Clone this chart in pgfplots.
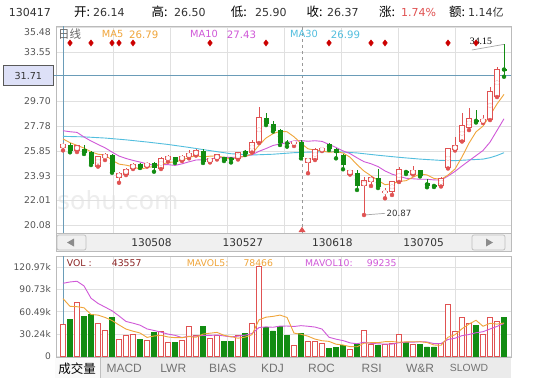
\documentclass[border=0pt]{standalone}
\usepackage{pgfplots}
\pgfplotsset{compat=1.18}
\usepackage{pgfplotstable}
\usepackage{fontspec}
\setmainfont{DejaVu Sans}
\newfontfamily\cjk{Noto Sans CJK SC}
\newfontfamily\serifnum{Liberation Serif}
\newfontfamily\tabfont{Liberation Sans}
\definecolor{upred}{HTML}{E05252}
\definecolor{dngreen}{HTML}{128C12}
\definecolor{ma5c}{HTML}{F0A53A}
\definecolor{ma10c}{HTML}{D058D8}
\definecolor{ma30c}{HTML}{52BEDE}
\definecolor{gridc}{HTML}{E0E0E0}
\definecolor{borderc}{HTML}{BBBBBB}
\definecolor{labc}{HTML}{555555}
\definecolor{crossc}{HTML}{6A9CB8}
\definecolor{volc}{HTML}{8B2323}
\definecolor{diamc}{HTML}{CC0000}
\definecolor{barbg}{HTML}{F0F0F0}
\definecolor{tabbg}{HTML}{EBEBEB}
\definecolor{boxfill}{HTML}{DDE0F7}
\definecolor{hdr}{HTML}{333333}
\newcommand{\fs}[1]{\fontsize{#1bp}{#1bp}\selectfont}

% up (red) candles: index open high low close
\pgfplotstableread{
i o h l c
0 26.14 26.50 25.90 26.37
2 25.93 26.34 25.77 26.24
5 24.68 25.46 24.64 25.41
6 25.36 25.67 25.15 25.54
8 23.80 24.24 23.38 24.12
9 24.06 24.53 23.98 24.43
10 24.50 24.92 24.45 24.82
12 24.68 24.96 24.64 24.89
14 24.50 25.38 24.45 25.28
15 25.20 25.54 25.02 25.41
17 25.15 25.54 25.07 25.46
18 25.41 25.93 25.28 25.67
19 25.54 25.97 25.50 25.87
21 25.02 25.34 24.96 25.28
22 25.23 25.58 25.19 25.54
25 25.23 25.77 25.19 25.73
27 25.77 26.67 25.73 26.55
28 26.53 29.25 26.47 28.47
33 26.47 26.57 26.24 26.51
35 24.97 25.31 24.12 25.28
36 25.20 26.08 25.15 25.98
37 25.93 26.20 25.85 26.06
41 24.06 24.41 24.02 24.37
43 23.13 23.85 20.87 23.52
44 23.46 23.87 23.13 23.80
46 22.61 22.95 22.17 22.68
47 22.68 23.52 22.43 23.46
48 23.46 24.58 23.44 24.43
50 24.06 24.68 24.02 24.37
54 23.13 23.79 23.09 23.73
55 24.53 26.08 24.49 26.05
56 25.93 26.92 25.89 26.29
57 26.63 28.78 26.59 27.82
58 27.66 29.17 27.48 28.40
60 28.11 28.65 28.03 28.32
61 28.32 30.81 28.26 30.47
62 30.13 32.36 30.05 32.21
}\upc
% down (green) candles
\pgfplotstableread{
i o h l c
1 26.32 26.45 25.75 25.87
3 26.01 26.32 25.62 25.67
4 25.77 25.85 24.76 24.82
7 25.54 25.62 24.16 24.24
11 24.84 24.92 24.53 24.55
13 24.94 25.02 24.24 24.55
16 25.36 25.42 24.92 24.97
20 25.87 25.97 24.92 24.97
23 25.36 25.38 25.07 25.11
24 25.28 25.31 24.96 25.15
26 25.85 25.89 25.54 25.59
29 28.40 28.78 27.87 27.95
30 27.95 28.21 27.37 27.43
31 27.48 27.56 26.32 26.50
32 26.50 26.71 26.19 26.40
34 26.53 26.71 25.28 25.41
38 26.40 26.47 25.93 26.01
39 26.01 26.05 25.28 25.67
40 25.54 25.62 24.43 24.76
42 24.12 24.37 22.82 23.13
45 23.77 24.43 22.97 23.03
49 24.32 24.37 24.06 24.12
51 24.37 24.41 23.87 23.91
52 23.38 23.65 23.03 23.13
53 23.20 23.24 23.05 23.07
59 28.26 29.04 28.07 28.13
63 32.23 34.15 31.63 32.15
}\dnc
% moving averages MA5 / MA10
\pgfplotstableread{
i ma5 ma10
0 26.79 27.43
1 26.50 27.35
2 26.29 27.30
3 26.08 26.94
4 25.79 26.63
5 25.60 26.36
6 25.54 26.10
7 25.14 25.77
8 24.83 25.46
9 24.75 25.27
10 24.63 25.12
11 24.43 24.99
12 24.56 24.85
13 24.65 24.74
14 24.82 24.79
15 24.94 24.79
16 25.02 24.73
17 25.13 24.85
18 25.36 25.01
19 25.48 25.15
20 25.39 25.17
21 25.45 25.24
22 25.47 25.30
23 25.35 25.36
24 25.21 25.35
25 25.36 25.38
26 25.42 25.44
27 25.63 25.55
28 26.30 25.83
29 26.86 26.04
30 27.20 26.28
31 27.38 26.40
32 27.35 26.49
33 26.96 26.63
34 26.45 26.66
35 26.02 26.61
36 25.92 26.65
37 25.85 26.60
38 25.75 26.36
39 25.80 26.13
40 25.70 25.86
41 25.37 25.65
42 24.79 25.32
43 24.29 25.02
44 23.92 24.86
45 23.57 24.64
46 23.23 24.30
47 23.30 24.05
48 23.48 23.89
49 23.54 23.73
50 23.81 23.69
51 24.06 23.65
52 23.99 23.65
53 23.72 23.60
54 23.64 23.59
55 23.98 23.90
56 24.45 24.26
57 25.39 24.69
58 26.46 25.09
59 27.34 25.49
60 27.79 25.89
61 28.63 26.54
62 29.51 27.45
63 30.26 28.36
}\matab
\pgfplotstableread{
i ma30
0 26.99
3 26.95
6 26.86
9 26.72
12 26.55
15 26.36
18 26.13
21 25.88
24 25.64
27 25.54
30 25.60
33 25.72
36 25.78
39 25.80
42 25.70
45 25.52
48 25.36
51 25.22
54 25.12
56 25.10
58 25.16
60 25.22
61 25.33
62 25.50
63 25.72
}\mathirty
% volumes (thousands)
\pgfplotstableread{
i v
0 43.56
2 73.4
5 45.0
6 35.5
8 23.7
9 29.1
10 30.5
12 22.4
14 34.1
15 19.2
17 22.4
18 41.3
19 29.1
21 24.6
22 28.2
25 29.1
27 45.0
28 121.7
33 15.6
35 21.0
36 21.0
37 17.9
41 9.8
43 35.0
44 16.5
46 16.5
47 17.9
48 30.1
50 16.5
54 17.4
55 70.7
56 33.6
57 53.5
58 45.0
60 30.1
61 53.5
62 48.1
}\upv
\pgfplotstableread{
i v
1 50.8
3 53.9
4 57.2
7 52.6
11 23.7
13 33.2
16 18.7
20 40.4
23 21.0
24 21.0
26 31.8
29 39.0
30 34.6
31 40.4
32 29.1
34 31.4
38 11.1
39 12.5
40 15.6
42 16.9
45 15.6
49 19.2
51 16.5
52 12.9
53 12.9
59 42.7
63 52.6
}\dnv
\pgfplotstableread{
i m5 m10
0 78.47 99.24
1 68.0 101.0
2 67.5 102.0
3 66.0 95.6
4 57.0 79.0
5 56.1 72.0
6 53.0 67.0
7 48.8 62.0
8 42.8 55.0
9 37.2 47.5
10 34.3 45.2
11 31.9 42.5
12 25.9 37.4
13 27.8 35.3
14 28.8 33.0
15 26.5 30.4
16 25.5 28.7
17 25.5 25.7
18 27.1 27.5
19 26.1 27.5
20 30.4 28.5
21 31.6 28.6
22 32.7 29.1
23 28.7 27.9
24 27.0 26.6
25 24.8 27.6
26 26.2 28.9
27 29.6 31.2
28 49.7 39.2
29 53.3 40.2
30 54.4 39.6
31 56.1 41.2
32 53.0 41.3
33 31.7 40.7
34 30.2 41.8
35 27.5 41.0
36 23.6 39.9
37 21.4 37.2
38 20.5 26.1
39 16.7 23.5
40 15.6 21.6
41 13.4 18.5
42 13.2 17.3
43 18.0 19.3
44 18.8 17.8
45 18.8 17.2
46 20.1 16.8
47 20.3 16.8
48 19.3 18.7
49 19.9 19.4
50 20.0 19.4
51 20.0 20.1
52 19.0 19.7
53 15.6 17.5
54 15.2 17.6
55 26.1 23.1
56 29.5 24.8
57 37.6 28.3
58 44.0 29.8
59 49.1 32.2
60 41.0 33.6
61 45.0 37.3
62 43.9 40.8
63 45.4 44.7
}\mavol

\begin{document}
\begin{tikzpicture}[x=1bp,y=1bp]
\useasboundingbox (0,0) rectangle (540,-378);
\fill[white] (0,0) rectangle (540,-378);

% ---------- header ----------
\node[anchor=west, inner sep=0pt, font=\fs{11}, text=hdr] at (8.6,-12) {130417};
\node[anchor=west, inner sep=0pt, font={\cjk\fs{12.5}}, text=black] at (74,-12) {开:};
\node[anchor=west, inner sep=0pt, font=\fs{11}, text=hdr] at (93,-12) {26.14};
\node[anchor=west, inner sep=0pt, font={\cjk\fs{12.5}}, text=black] at (151.5,-12) {高:};
\node[anchor=west, inner sep=0pt, font=\fs{11}, text=hdr] at (174,-12) {26.50};
\node[anchor=west, inner sep=0pt, font={\cjk\fs{12.5}}, text=black] at (230.7,-12) {低:};
\node[anchor=west, inner sep=0pt, font=\fs{11}, text=hdr] at (255,-12) {25.90};
\node[anchor=west, inner sep=0pt, font={\cjk\fs{12.5}}, text=black] at (306.5,-12) {收:};
\node[anchor=west, inner sep=0pt, font=\fs{11}, text=hdr] at (327,-12) {26.37};
\node[anchor=west, inner sep=0pt, font={\cjk\fs{12.5}}, text=black] at (379,-12) {涨:};
\node[anchor=west, inner sep=0pt, font=\fs{11}, text=upred] at (401,-12) {1.74\%};
\node[anchor=west, inner sep=0pt, font={\cjk\fs{12.5}}, text=black] at (449,-12) {额:};
\node[anchor=west, inner sep=0pt, font=\fs{11}, text=hdr] at (468,-12) {1.14{\cjk 亿}};

% ---------- watermark ----------
\node[anchor=west, inner sep=0pt, font=\fs{25}, text=black!7] at (57,-200) {sohu.com};

% ---------- main price panel ----------
\begin{axis}[
  at={(56bp,-26bp)}, anchor=north west,
  scale only axis, width=455bp, height=207bp,
  xmin=-1, xmax=64, ymin=19.469, ymax=35.578,
  axis line style={draw=borderc, line width=0.8bp},
  xtick={7.143,15.286,23.429,31.571,39.714,47.857,56.0}, xticklabels={},
  ytick={20.08,22.01,23.93,25.85,27.78,29.70,33.55,35.48},
  yticklabels={20.08,22.01,23.93,25.85,27.78,29.70,33.55,\raisebox{-8bp}[0pt][0pt]{35.48}},
  grid=major, major grid style={draw=gridc, line width=0.8bp},
  tick style={draw=none},
  yticklabel style={font=\fs{9.3}, text=labc, anchor=east, inner sep=0pt, xshift=-5bp},
  extra x ticks={34.14}, extra x tick labels={},
  extra x tick style={grid=major, major grid style={draw=black!40, dashed, line width=0.7bp}},
  clip=false,
]
% crosshair
\draw[crossc, line width=0.8bp] (axis cs:0,19.469) -- (axis cs:0,35.578);
\draw[crossc, line width=0.8bp] (axis cs:-1,31.71) -- (axis cs:64,31.71);

% moving averages
\addplot[ma30c, line width=0.9bp, mark=none] table[x=i, y=ma30] {\mathirty};
\addplot[ma10c, line width=0.9bp, mark=none] table[x=i, y=ma10] {\matab};
\addplot[ma5c, line width=0.9bp, mark=none] table[x=i, y=ma5] {\matab};

% wicks
\addplot[upred, only marks, mark=none, error bars/.cd, y dir=plus, y explicit, error mark=none,
  error bar style={line width=1bp, upred}]
  table[x=i, y=l, y error plus expr={\thisrow{h}-\thisrow{l}}] {\upc};
\addplot[dngreen, only marks, mark=none, error bars/.cd, y dir=plus, y explicit, error mark=none,
  error bar style={line width=1bp, dngreen}]
  table[x=i, y=l, y error plus expr={\thisrow{h}-\thisrow{l}}] {\dnc};
% red hollow bodies
\addplot[upred, only marks, mark=none, error bars/.cd, y dir=both, y explicit, error mark=none,
  error bar style={line width=5.2bp, upred}]
  table[x=i, y expr={(\thisrow{o}+\thisrow{c})/2}, y error expr={abs(\thisrow{c}-\thisrow{o})/2+0.04}] {\upc};
\addplot[white, only marks, mark=none, error bars/.cd, y dir=both, y explicit, error mark=none,
  error bar style={line width=3.4bp, white}]
  table[x=i, y expr={(\thisrow{o}+\thisrow{c})/2}, y error expr={max(abs(\thisrow{c}-\thisrow{o})/2-0.04,0)}] {\upc};
% green filled bodies
\addplot[dngreen, only marks, mark=none, error bars/.cd, y dir=both, y explicit, error mark=none,
  error bar style={line width=5bp, dngreen}]
  table[x=i, y expr={(\thisrow{o}+\thisrow{c})/2}, y error expr={max(abs(\thisrow{c}-\thisrow{o})/2,0.045)}] {\dnc};

% event markers
\addplot[only marks, mark=diamond*, mark size=3.1bp, diamc, mark options={draw=diamc, fill=diamc}]
  coordinates {(1,34.26) (4,34.26) (7,34.26) (8,34.26) (10,34.26) (21,34.26) (29,34.26)
               (38,34.26) (44,34.26) (46,34.26) (55,34.26) (59,34.26)};

% high / low annotations
\draw[black!35, line width=0.7bp] (axis cs:63,34.15) -- (axis cs:58.4,33.71);
\node[anchor=west, inner sep=0pt, font={\serifnum\fs{9.8}}, text=black] at (axis cs:58.1,34.36) {34.15};
\draw[black!35, line width=0.7bp] (axis cs:43,20.87) -- (axis cs:46,21.0);
\node[anchor=west, inner sep=0pt, font=\fs{8.6}, text=hdr] at (axis cs:46.2,21.0) {20.87};
\end{axis}

% current-price box and crosshair extension
\draw[crossc, line width=0.8bp] (53.3,-75.7) -- (56,-75.7);
\node[draw=black!65, fill=boxfill, line width=0.8bp, minimum width=50bp, minimum height=20bp,
  inner sep=0pt, font=\fs{9.6}, text=black!80] at (28.3,-75.7) {31.71};
% date marker triangle
\fill[upred] (298.5,-232) -- (305.5,-232) -- (302,-226.8) -- cycle;

% legend of price panel
\node[anchor=west, inner sep=0pt, font={\cjk\fs{11.5}}, text=black!60] at (58,-34.3) {日线};
\node[anchor=west, inner sep=0pt, font=\fs{9.8}, text=ma5c] at (101.7,-34.3) {MA5};
\node[anchor=west, inner sep=0pt, font=\fs{10.2}, text=ma5c] at (129,-34.3) {26.79};
\node[anchor=west, inner sep=0pt, font=\fs{9.8}, text=ma10c] at (190,-34.3) {MA10};
\node[anchor=west, inner sep=0pt, font=\fs{10.2}, text=ma10c] at (226.7,-34.3) {27.43};
\node[anchor=west, inner sep=0pt, font=\fs{9.8}, text=ma30c] at (290,-34.3) {MA30};
\node[anchor=west, inner sep=0pt, font=\fs{10.2}, text=ma30c] at (330.7,-34.3) {26.99};

% ---------- scroll bar ----------
\fill[barbg] (56,-233.5) rectangle (511,-251.5);
\draw[borderc, line width=0.7bp] (56,-233.5) rectangle (511,-251.5);
\draw[black!25, fill=black!6, rounded corners=2bp, line width=0.7bp] (57,-235) rectangle (86,-250);
\fill[black!45] (67,-242.5) -- (74,-238.5) -- (74,-246.5) -- cycle;
\draw[black!25, fill=black!6, rounded corners=2bp, line width=0.7bp] (472,-235) rectangle (505,-250);
\fill[black!45] (486,-238.5) -- (486,-246.5) -- (493,-242.5) -- cycle;
\node[font=\fs{10.6}, text=hdr] at (151.5,-243) {130508};
\node[font=\fs{10.6}, text=hdr] at (242.8,-243) {130527};
\node[font=\fs{10.6}, text=hdr] at (332.3,-243) {130618};
\node[font=\fs{10.6}, text=hdr] at (423.6,-243) {130705};

% ---------- volume panel ----------
\begin{axis}[
  at={(56bp,-256bp)}, anchor=north west,
  scale only axis, width=455bp, height=101bp,
  xmin=-1, xmax=64, ymin=-0.68, ymax=136.18,
  axis line style={draw=borderc, line width=0.8bp},
  xtick={7.143,15.286,23.429,31.571,39.714,47.857,56.0}, xticklabels={},
  ytick={0,30.24,60.49,90.73,120.97},
  yticklabels={0,30.24k,60.49k,90.73k,120.97k},
  grid=major, major grid style={draw=gridc, line width=0.8bp},
  tick style={draw=none},
  yticklabel style={font=\fs{9.1}, text=labc, anchor=east, inner sep=0pt, xshift=-5bp},
  clip=false,
]
\draw[crossc, line width=0.8bp] (axis cs:0,-0.68) -- (axis cs:0,136.18);
\addplot[ybar, bar width=4.4bp, bar shift=0pt, draw=upred, fill=white, line width=0.8bp] table[x=i, y=v] {\upv};
\addplot[ybar, bar width=4.8bp, bar shift=0pt, draw=dngreen, fill=dngreen, line width=0.5bp] table[x=i, y=v] {\dnv};
\addplot[ma10c, line width=0.9bp, mark=none] table[x=i, y=m10] {\mavol};
\addplot[ma5c, line width=0.9bp, mark=none] table[x=i, y=m5] {\mavol};
\end{axis}

\node[anchor=west, inner sep=0pt, font=\fs{9.3}, text=volc] at (66.7,-263.3) {VOL :};
\node[anchor=west, inner sep=0pt, font=\fs{9.3}, text=volc] at (111.7,-263.3) {43557};
\node[anchor=west, inner sep=0pt, font=\fs{9.3}, text=ma5c] at (186.7,-263.3) {MAVOL5:};
\node[anchor=west, inner sep=0pt, font=\fs{9.3}, text=ma5c] at (243.3,-263.3) {78466};
\node[anchor=west, inner sep=0pt, font=\fs{9.3}, text=ma10c] at (305,-263.3) {MAVOL10:};
\node[anchor=west, inner sep=0pt, font=\fs{9.3}, text=ma10c] at (366.7,-263.3) {99235};

% ---------- tab bar ----------
\fill[tabbg] (56,-357.5) rectangle (511,-378);
\fill[black!2] (55,-357.5) rectangle (100,-378);
\draw[black!25, line width=0.7bp] (100,-357.5) -- (100,-378);
\node[font={\cjk\fs{12.5}}, text=black] at (77,-368.3) {成交量};
\node[font={\tabfont\fs{12}}, text=black!55] at (124.2,-368.3) {MACD};
\node[font={\tabfont\fs{12}}, text=black!55] at (173.3,-368.3) {LWR};
\node[font={\tabfont\fs{12}}, text=black!55] at (222.7,-368.3) {BIAS};
\node[font={\tabfont\fs{12}}, text=black!55] at (272.5,-368.3) {KDJ};
\node[font={\tabfont\fs{12}}, text=black!55] at (321.5,-368.3) {ROC};
\node[font={\tabfont\fs{12}}, text=black!55] at (371.7,-368.3) {RSI};
\node[font={\tabfont\fs{12}}, text=black!55] at (420,-368.3) {W\&R};
\node[font={\tabfont\fs{10.4}}, text=black!55] at (469,-367.5) {SLOWD};
\end{tikzpicture}
\end{document}
